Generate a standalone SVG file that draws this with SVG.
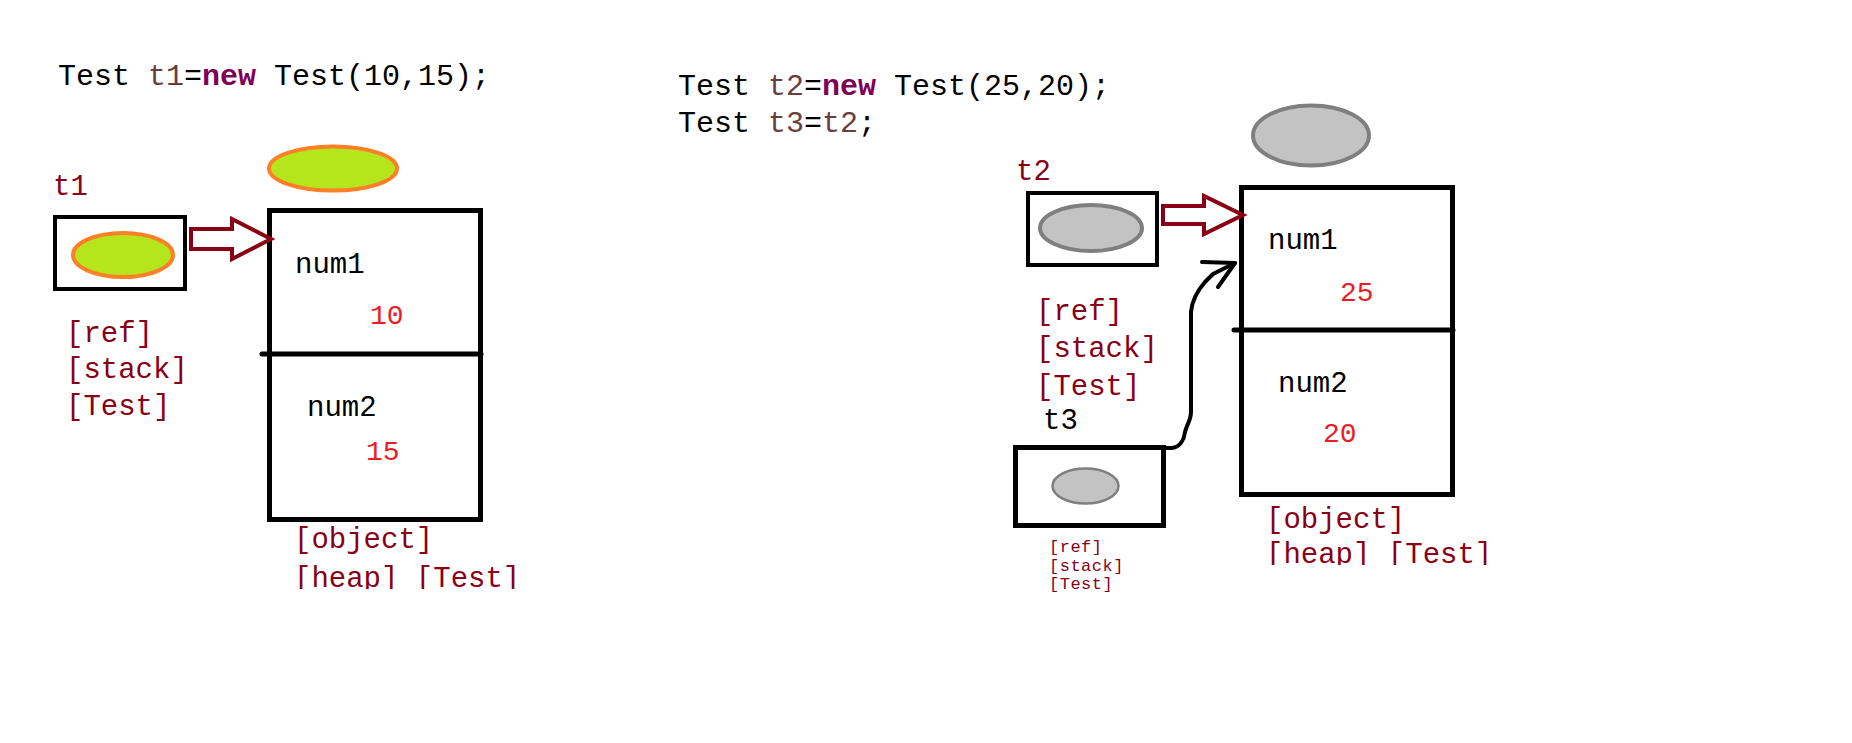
<svg xmlns="http://www.w3.org/2000/svg" width="1852" height="743" viewBox="0 0 1852 743">
<style>
.code{font-family:"Liberation Mono","DejaVu Sans Mono",monospace;font-size:30px;fill:#000}
.var{fill:#6A3E3E}
.kw{fill:#7F0055;font-weight:bold}
.lbl{font-family:"Liberation Mono","DejaVu Sans Mono",monospace;font-size:29px;fill:#880015}
.fld{font-family:"Liberation Mono","DejaVu Sans Mono",monospace;font-size:29px;fill:#000}
.val{font-family:"Liberation Mono","DejaVu Sans Mono",monospace;font-size:28px;fill:#ED1C24}
.small{font-family:"Liberation Mono","DejaVu Sans Mono",monospace;font-size:17px;fill:#880015;letter-spacing:0.5px}
.box{fill:none;stroke:#000;stroke-width:4}
.obj{fill:none;stroke:#000;stroke-width:5}
.div{stroke:#000;stroke-width:5;stroke-linecap:round}
.green{fill:#B5E61D;stroke:#FF7F27;stroke-width:4}
.gray{fill:#C3C3C3;stroke:#7F7F7F;stroke-width:4}
.ref{fill:#fff;stroke:#880015;stroke-width:4;stroke-linejoin:miter}
.curve{fill:none;stroke:#000;stroke-width:4;stroke-linejoin:round;stroke-linecap:round}
</style>
<defs>
<clipPath id="clipL"><rect x="0" y="0" width="1852" height="589"/></clipPath>
<clipPath id="clipR"><rect x="0" y="0" width="1852" height="565"/></clipPath>
</defs>
<rect width="1852" height="743" fill="#fff"/>

<g id="code1">
<text class="code" x="58" y="85">Test <tspan class="var">t1</tspan>=<tspan class="kw">new</tspan> Test(10,15);</text>
</g>
<g id="code2">
<text class="code" x="678" y="95">Test <tspan class="var">t2</tspan>=<tspan class="kw">new</tspan> Test(25,20);</text>
<text class="code" x="678" y="132">Test <tspan class="var">t3</tspan>=<tspan class="var">t2</tspan>;</text>
</g>

<g id="t1">
<text class="lbl" x="53" y="195">t1</text>
<rect class="box" x="55" y="217" width="130" height="72"/>
<ellipse class="green" cx="123" cy="255" rx="50" ry="22"/>
<text class="lbl" x="66" y="342">[ref]</text>
<text class="lbl" x="66" y="378">[stack]</text>
<text class="lbl" x="66" y="415">[Test]</text>
</g>

<g id="obj1">
<ellipse class="green" cx="333" cy="168.5" rx="64" ry="22"/>
<rect class="obj" x="269.5" y="210.5" width="211" height="309"/>
<line class="div" x1="262" y1="354" x2="481" y2="354"/>
<text class="fld" x="295" y="273">num1</text>
<text class="val" x="370" y="324">10</text>
<text class="fld" x="307" y="416">num2</text>
<text class="val" x="366" y="460">15</text>
<text class="lbl" x="294" y="548">[object]</text>
<text class="lbl" x="294" y="587" clip-path="url(#clipL)">[heap] [Test]</text>
</g>

<g id="t2">
<text class="lbl" x="1016" y="180">t2</text>
<rect class="box" x="1028" y="193" width="129" height="72"/>
<ellipse class="gray" cx="1091" cy="228" rx="51" ry="23"/>
<text class="lbl" x="1036" y="320">[ref]</text>
<text class="lbl" x="1036" y="357">[stack]</text>
<text class="lbl" x="1036" y="395">[Test]</text>
</g>

<g id="t3">
<text class="fld" x="1043" y="429">t3</text>
<rect class="obj" x="1015.5" y="447.5" width="148" height="78"/>
<ellipse class="gray" style="stroke-width:2.5" cx="1085.5" cy="486" rx="33" ry="17.5"/>
<text class="small" x="1049" y="552">[ref]</text>
<text class="small" x="1049" y="571">[stack]</text>
<text class="small" x="1049" y="589">[Test]</text>
</g>

<g id="obj2">
<ellipse class="gray" cx="1311" cy="135.5" rx="58" ry="30"/>
<rect class="obj" x="1241.5" y="187.5" width="211" height="307"/>
<line class="div" x1="1234" y1="330" x2="1453" y2="330"/>
<text class="fld" x="1268" y="249">num1</text>
<text class="val" x="1340" y="301">25</text>
<text class="fld" x="1278" y="392">num2</text>
<text class="val" x="1323" y="442">20</text>
<text class="lbl" x="1266" y="528">[object]</text>
<text class="lbl" x="1266" y="563" clip-path="url(#clipR)">[heap] [Test]</text>
</g>

<g id="connectors">
<path class="ref" d="M191,229 H232 V219 L271,239 L232,259 V249 H191 Z"/>
<path class="ref" d="M1163,206 H1204 V196 L1243,215 L1204,234 V224 H1163 Z"/>
<path class="curve" d="M1160,448 L1172,448 C1180,447 1184,440 1185,432 C1187,424 1191,420 1191,412 L1191,312 C1192,300 1198,290 1205,282 L1213,274 L1235,263"/>
<path class="curve" d="M1202,262 L1235,263 L1218,287"/>
</g>
</svg>
